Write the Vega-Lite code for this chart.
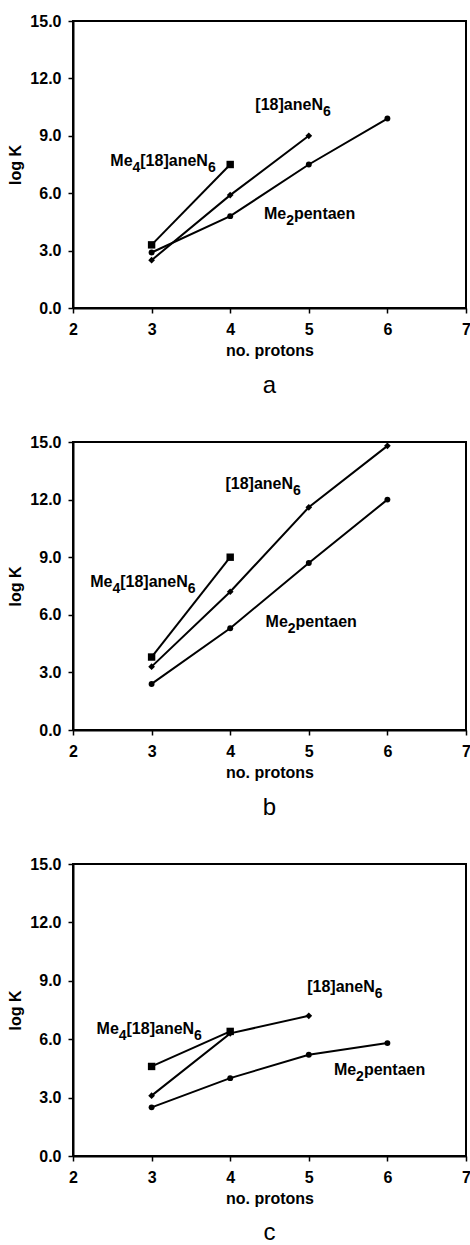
{
  "$schema": "https://vega.github.io/schema/vega-lite/v6.json",
  "background": "white",
  "padding": {"left": 6, "top": 12, "right": 0, "bottom": 0},
  "spacing": 134,
  "bounds": "flush",
  "config": {
    "view": {"stroke": "#000", "strokeWidth": 2},
    "font": "Liberation Sans, Arial, sans-serif",
    "axis": {
      "domainColor": "#000", "domainWidth": 2, "tickColor": "#000", "tickWidth": 1.5, "tickSize": 5,
      "labelColor": "#000", "titleColor": "#000", "labelFontSize": 16, "titleFontSize": 16,
      "labelFontWeight": "bold", "titleFontWeight": "bold", "grid": false,
      "labelFont": "Liberation Sans, Arial, sans-serif",
      "titleFont": "Liberation Sans, Arial, sans-serif"
    },
    "title": {"orient": "bottom", "fontSize": 24, "fontWeight": "normal", "font": "Liberation Sans, Arial, sans-serif", "color": "#000", "offset": 16}
  },
  "datasets": {
    "points": [
      {"panel": "a", "series": "Me4[18]aneN6", "x": 3, "y": 3.3},
      {"panel": "a", "series": "Me4[18]aneN6", "x": 4, "y": 7.5},
      {"panel": "a", "series": "[18]aneN6", "x": 3, "y": 2.5},
      {"panel": "a", "series": "[18]aneN6", "x": 4, "y": 5.9},
      {"panel": "a", "series": "[18]aneN6", "x": 5, "y": 9.0},
      {"panel": "a", "series": "Me2pentaen", "x": 3, "y": 2.9},
      {"panel": "a", "series": "Me2pentaen", "x": 4, "y": 4.8},
      {"panel": "a", "series": "Me2pentaen", "x": 5, "y": 7.5},
      {"panel": "a", "series": "Me2pentaen", "x": 6, "y": 9.9},
      {"panel": "b", "series": "Me4[18]aneN6", "x": 3, "y": 3.8},
      {"panel": "b", "series": "Me4[18]aneN6", "x": 4, "y": 9.0},
      {"panel": "b", "series": "[18]aneN6", "x": 3, "y": 3.3},
      {"panel": "b", "series": "[18]aneN6", "x": 4, "y": 7.2},
      {"panel": "b", "series": "[18]aneN6", "x": 5, "y": 11.6},
      {"panel": "b", "series": "[18]aneN6", "x": 6, "y": 14.8},
      {"panel": "b", "series": "Me2pentaen", "x": 3, "y": 2.4},
      {"panel": "b", "series": "Me2pentaen", "x": 4, "y": 5.3},
      {"panel": "b", "series": "Me2pentaen", "x": 5, "y": 8.7},
      {"panel": "b", "series": "Me2pentaen", "x": 6, "y": 12.0},
      {"panel": "c", "series": "Me4[18]aneN6", "x": 3, "y": 4.6},
      {"panel": "c", "series": "Me4[18]aneN6", "x": 4, "y": 6.4},
      {"panel": "c", "series": "[18]aneN6", "x": 3, "y": 3.1},
      {"panel": "c", "series": "[18]aneN6", "x": 4, "y": 6.3},
      {"panel": "c", "series": "[18]aneN6", "x": 5, "y": 7.2},
      {"panel": "c", "series": "Me2pentaen", "x": 3, "y": 2.5},
      {"panel": "c", "series": "Me2pentaen", "x": 4, "y": 4.0},
      {"panel": "c", "series": "Me2pentaen", "x": 5, "y": 5.2},
      {"panel": "c", "series": "Me2pentaen", "x": 6, "y": 5.8}
    ],
    "labels": [
      {"panel": "a", "role": "main", "text": "Me", "x": 2.475, "y": 7.7},
      {"panel": "a", "role": "sub", "text": "4", "x": 2.757, "y": 7.7},
      {"panel": "a", "role": "main", "text": "[18]aneN", "x": 2.856, "y": 7.7},
      {"panel": "a", "role": "sub", "text": "6", "x": 3.716, "y": 7.7},
      {"panel": "a", "role": "main", "text": "[18]aneN", "x": 4.32, "y": 10.6},
      {"panel": "a", "role": "sub", "text": "6", "x": 5.18, "y": 10.6},
      {"panel": "a", "role": "main", "text": "Me", "x": 4.43, "y": 4.9},
      {"panel": "a", "role": "sub", "text": "2", "x": 4.712, "y": 4.9},
      {"panel": "a", "role": "main", "text": "pentaen", "x": 4.811, "y": 4.9},
      {"panel": "b", "role": "main", "text": "Me", "x": 2.22, "y": 7.7},
      {"panel": "b", "role": "sub", "text": "4", "x": 2.502, "y": 7.7},
      {"panel": "b", "role": "main", "text": "[18]aneN", "x": 2.601, "y": 7.7},
      {"panel": "b", "role": "sub", "text": "6", "x": 3.461, "y": 7.7},
      {"panel": "b", "role": "main", "text": "[18]aneN", "x": 3.94, "y": 12.8},
      {"panel": "b", "role": "sub", "text": "6", "x": 4.80, "y": 12.8},
      {"panel": "b", "role": "main", "text": "Me", "x": 4.45, "y": 5.6},
      {"panel": "b", "role": "sub", "text": "2", "x": 4.732, "y": 5.6},
      {"panel": "b", "role": "main", "text": "pentaen", "x": 4.831, "y": 5.6},
      {"panel": "c", "role": "main", "text": "Me", "x": 2.30, "y": 6.5},
      {"panel": "c", "role": "sub", "text": "4", "x": 2.582, "y": 6.5},
      {"panel": "c", "role": "main", "text": "[18]aneN", "x": 2.681, "y": 6.5},
      {"panel": "c", "role": "sub", "text": "6", "x": 3.541, "y": 6.5},
      {"panel": "c", "role": "main", "text": "[18]aneN", "x": 4.98, "y": 8.7},
      {"panel": "c", "role": "sub", "text": "6", "x": 5.84, "y": 8.7},
      {"panel": "c", "role": "main", "text": "Me", "x": 5.32, "y": 4.4},
      {"panel": "c", "role": "sub", "text": "2", "x": 5.602, "y": 4.4},
      {"panel": "c", "role": "main", "text": "pentaen", "x": 5.701, "y": 4.4}
    ]
  },
  "vconcat": [
    {
      "width": 393, "height": 287,
      "title": {"text": "a"},
      "encoding": {
        "x": {"field": "x", "type": "quantitative", "scale": {"domain": [2, 7], "nice": false}, "axis": {"values": [2, 3, 4, 5, 6, 7], "format": "d", "title": "no. protons", "labelPadding": 8, "titlePadding": 5, "labelFlush": false}},
        "y": {"field": "y", "type": "quantitative", "scale": {"domain": [0, 15], "nice": false}, "axis": {"values": [0, 3, 6, 9, 12, 15], "format": ".1f", "title": "log K", "labelPadding": 7, "titlePadding": 6}}
      },
      "layer": [
        {"data": {"name": "points"}, "transform": [{"filter": "datum.panel == 'a'"}], "mark": {"type": "line", "color": "#000", "strokeWidth": 2}, "encoding": {"detail": {"field": "series"}}},
        {"data": {"name": "points"}, "transform": [{"filter": "datum.panel == 'a'"}], "mark": {"type": "point", "filled": true, "color": "#000", "opacity": 1},
         "encoding": {"shape": {"field": "series", "scale": {"domain": ["Me4[18]aneN6", "[18]aneN6", "Me2pentaen"], "range": ["square", "diamond", "circle"]}, "legend": null},
                      "size": {"field": "series", "scale": {"domain": ["Me4[18]aneN6", "[18]aneN6", "Me2pentaen"], "range": [55, 35, 30]}, "legend": null}}},
        {"data": {"name": "labels"}, "transform": [{"filter": "datum.panel == 'a' && datum.role == 'main'"}], "mark": {"type": "text", "align": "left", "baseline": "middle", "fontSize": 16, "fontWeight": "bold", "color": "#000"}, "encoding": {"text": {"field": "text"}}},
        {"data": {"name": "labels"}, "transform": [{"filter": "datum.panel == 'a' && datum.role == 'sub'"}], "mark": {"type": "text", "align": "left", "baseline": "middle", "fontSize": 14, "fontWeight": "bold", "color": "#000", "dy": 7}, "encoding": {"text": {"field": "text"}}}
      ]
    },
    {
      "width": 393, "height": 288,
      "title": {"text": "b"},
      "encoding": {
        "x": {"field": "x", "type": "quantitative", "scale": {"domain": [2, 7], "nice": false}, "axis": {"values": [2, 3, 4, 5, 6, 7], "format": "d", "title": "no. protons", "labelPadding": 8, "titlePadding": 5, "labelFlush": false}},
        "y": {"field": "y", "type": "quantitative", "scale": {"domain": [0, 15], "nice": false}, "axis": {"values": [0, 3, 6, 9, 12, 15], "format": ".1f", "title": "log K", "labelPadding": 7, "titlePadding": 6}}
      },
      "layer": [
        {"data": {"name": "points"}, "transform": [{"filter": "datum.panel == 'b'"}], "mark": {"type": "line", "color": "#000", "strokeWidth": 2}, "encoding": {"detail": {"field": "series"}}},
        {"data": {"name": "points"}, "transform": [{"filter": "datum.panel == 'b'"}], "mark": {"type": "point", "filled": true, "color": "#000", "opacity": 1},
         "encoding": {"shape": {"field": "series", "scale": {"domain": ["Me4[18]aneN6", "[18]aneN6", "Me2pentaen"], "range": ["square", "diamond", "circle"]}, "legend": null},
                      "size": {"field": "series", "scale": {"domain": ["Me4[18]aneN6", "[18]aneN6", "Me2pentaen"], "range": [55, 35, 30]}, "legend": null}}},
        {"data": {"name": "labels"}, "transform": [{"filter": "datum.panel == 'b' && datum.role == 'main'"}], "mark": {"type": "text", "align": "left", "baseline": "middle", "fontSize": 16, "fontWeight": "bold", "color": "#000"}, "encoding": {"text": {"field": "text"}}},
        {"data": {"name": "labels"}, "transform": [{"filter": "datum.panel == 'b' && datum.role == 'sub'"}], "mark": {"type": "text", "align": "left", "baseline": "middle", "fontSize": 14, "fontWeight": "bold", "color": "#000", "dy": 7}, "encoding": {"text": {"field": "text"}}}
      ]
    },
    {
      "width": 393, "height": 292,
      "title": {"text": "c", "offset": 15},
      "encoding": {
        "x": {"field": "x", "type": "quantitative", "scale": {"domain": [2, 7], "nice": false}, "axis": {"values": [2, 3, 4, 5, 6, 7], "format": "d", "title": "no. protons", "labelPadding": 8, "titlePadding": 5, "labelFlush": false}},
        "y": {"field": "y", "type": "quantitative", "scale": {"domain": [0, 15], "nice": false}, "axis": {"values": [0, 3, 6, 9, 12, 15], "format": ".1f", "title": "log K", "labelPadding": 7, "titlePadding": 6}}
      },
      "layer": [
        {"data": {"name": "points"}, "transform": [{"filter": "datum.panel == 'c'"}], "mark": {"type": "line", "color": "#000", "strokeWidth": 2}, "encoding": {"detail": {"field": "series"}}},
        {"data": {"name": "points"}, "transform": [{"filter": "datum.panel == 'c'"}], "mark": {"type": "point", "filled": true, "color": "#000", "opacity": 1},
         "encoding": {"shape": {"field": "series", "scale": {"domain": ["Me4[18]aneN6", "[18]aneN6", "Me2pentaen"], "range": ["square", "diamond", "circle"]}, "legend": null},
                      "size": {"field": "series", "scale": {"domain": ["Me4[18]aneN6", "[18]aneN6", "Me2pentaen"], "range": [55, 35, 30]}, "legend": null}}},
        {"data": {"name": "labels"}, "transform": [{"filter": "datum.panel == 'c' && datum.role == 'main'"}], "mark": {"type": "text", "align": "left", "baseline": "middle", "fontSize": 16, "fontWeight": "bold", "color": "#000"}, "encoding": {"text": {"field": "text"}}},
        {"data": {"name": "labels"}, "transform": [{"filter": "datum.panel == 'c' && datum.role == 'sub'"}], "mark": {"type": "text", "align": "left", "baseline": "middle", "fontSize": 14, "fontWeight": "bold", "color": "#000", "dy": 7}, "encoding": {"text": {"field": "text"}}}
      ]
    }
  ]
}
